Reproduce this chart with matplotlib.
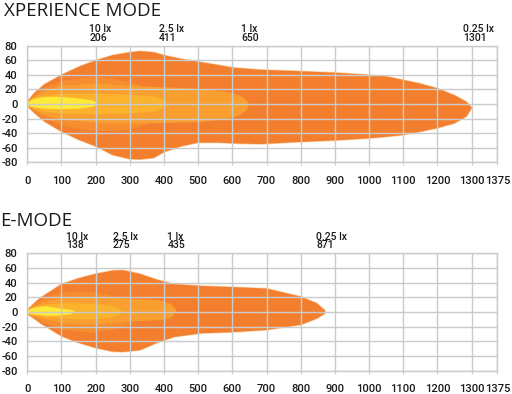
import matplotlib
matplotlib.use("Agg")
import matplotlib.pyplot as plt
import numpy as np
from matplotlib.transforms import blended_transform_factory

# ---------------- data ----------------
xticks = [0, 100, 200, 300, 400, 500, 600, 700, 800, 900, 1000, 1100, 1200, 1300, 1375]
yticks = [-80, -60, -40, -20, 0, 20, 40, 60, 80]

# XPERIENCE MODE  (distance m, upper edge deg, lower edge deg)
xp_labels = ["10 lx", "2.5 lx", "1 lx", "0.25 lx"]
xp_dist = [206, 411, 650, 1301]

xp_025_x = [0, 20, 50, 100, 150, 200, 250, 300, 330, 370, 400, 450, 500, 560, 600, 680, 800, 900, 1000, 1050, 1100, 1150, 1200, 1250, 1285, 1301]
xp_025_top = [3, 15, 27, 40, 51, 60, 67, 71, 72.5, 71, 67, 62, 58, 53.5, 50, 47, 45, 43, 40, 38, 33, 28, 21.5, 12, 3, -5]
xp_025_bot = [-3, -12, -24, -38, -49, -58, -70, -75.5, -76, -74, -66, -58, -53, -53, -54, -55, -52, -50, -47, -45, -42.5, -38, -33, -26.5, -17, -5]

xp_band_x = [0, 20, 50, 100, 150, 200, 250, 300, 330, 350]
xp_band_top = [3, 12, 22, 31, 35, 37, 35, 30, 26, 22]
xp_band_bot = [-3, -10, -19, -29, -34, -37, -37, -34, -31, -28]

xp_1_x = [0, 20, 50, 100, 200, 300, 400, 500, 580, 620, 640, 650]
xp_1_top = [3, 10, 18, 25, 28, 25, 23, 21, 17, 12, 6, -1]
xp_1_bot = [-3, -8, -15, -21, -26, -27, -26, -25, -21, -16, -9, -1]

xp_25_x = [0, 20, 50, 100, 200, 300, 360, 390, 405, 411]
xp_25_top = [3, 9, 12, 14, 14, 13, 11, 8, 4, 0]
xp_25_bot = [-3, -7, -11, -13, -14, -13, -11, -8, -4, 0]

xp_10_x = [0, 15, 40, 80, 120, 160, 190, 206]
xp_10_top = [2, 6, 9, 10, 9, 7, 5, 1]
xp_10_bot = [-2, -4, -6, -7, -7, -6, -4, -1]

# E-MODE
em_labels = ["10 lx", "2.5 lx", "1 lx", "0.25 lx"]
em_dist = [138, 275, 435, 871]

em_025_x = [0, 20, 40, 100, 150, 200, 250, 280, 330, 380, 430, 510, 600, 700, 800, 847, 871]
em_025_top = [3, 12, 20, 38, 46, 52, 56.5, 57, 52, 44, 38, 35.5, 34, 32, 21, 12, 2]
em_025_bot = [-3, -9, -16, -33, -42, -49, -54, -54.5, -52, -42, -34, -29, -27.5, -24.5, -17.5, -9, -2]

em_band_x = [0, 20, 50, 100, 150, 200, 250, 280, 300]
em_band_top = [3, 10, 19, 26, 28, 27, 22, 18, 15]
em_band_bot = [-3, -8, -15, -23, -27, -28, -24, -20, -16]

em_1_x = [0, 20, 50, 100, 150, 200, 300, 390, 420, 435]
em_1_top = [3, 8, 14, 19, 21, 20, 18, 16, 11, 3]
em_1_bot = [-3, -6, -10, -15, -17, -17, -13, -11, -8, 1]

em_25_x = [0, 20, 50, 100, 150, 200, 240, 265, 275]
em_25_top = [3, 7, 10, 12, 12, 11, 9, 6, 2]
em_25_bot = [-3, -5, -7, -9, -10, -10, -8, -5, 0]

em_10_x = [0, 15, 35, 55, 80, 110, 130, 138]
em_10_top = [2, 5, 7, 8, 6, 4, 3, 1]
em_10_bot = [-2, -3, -4, -5, -5, -4, -3, 0]

# ---------------- style ----------------
c_outer = "#F37F2E"
c_band = "#F68E2F"
c_1 = "#F89F30"
c_25 = "#FBB22C"
c_10 = "#FFEA3A"
grid_c = "#CBCBCB"
txt_c = "#1a1a1a"

plt.rcParams['font.family'] = ['Roboto', 'DejaVu Sans']

fig = plt.figure(figsize=(5.12, 3.94), dpi=100)


def poly(ax, xs, top, bot, color, z, edge=None):
    px = list(xs) + list(xs[::-1])
    py = list(top) + list(bot[::-1])
    ax.fill(px, py, color=color, zorder=z, lw=0)
    if edge:
        ax.fill(px, py, facecolor="none", edgecolor=edge, lw=1.0, zorder=z - 0.1)


def setup(ax, labels, dists, layers):
    for (xs, t, b, col, edge) in layers:
        poly(ax, xs, t, b, col, 1, edge)
    ax.set_xlim(0, 1375)
    ax.set_ylim(-80, 80)
    ax.set_xticks(xticks)
    ax.set_yticks(yticks)
    ax.set_xticklabels([str(v) for v in xticks], fontsize=8, fontweight='medium')
    ax.set_yticklabels([str(v) for v in yticks], fontsize=8, fontweight='medium')
    ax.grid(True, color=grid_c, lw=1.0, zorder=3)
    ax.set_axisbelow(False)
    for s in ax.spines.values():
        s.set_color(grid_c)
        s.set_linewidth(1.0)
        s.set_zorder(3)
    ax.tick_params(axis='y', length=0, pad=7, colors=txt_c)
    ax.tick_params(axis='x', length=2.5, pad=7, color=grid_c, labelcolor=txt_c)
    tr = blended_transform_factory(ax.transData, ax.transAxes)
    for lab, d in zip(labels, dists):
        ax.text(d - 25, 1.025, f"{lab}\n{d}", transform=tr, ha='left', va='bottom',
                fontsize=7.5, fontweight='medium', linespacing=0.85, color=txt_c)


ax1 = fig.add_axes([0.0533, 0.588, 0.918, 0.296])
setup(ax1, xp_labels, xp_dist, [
    (xp_025_x, xp_025_top, xp_025_bot, c_outer, "#FBD3A8"),
    (xp_band_x, xp_band_top, xp_band_bot, c_band, None),
    (xp_1_x, xp_1_top, xp_1_bot, c_1, None),
    (xp_25_x, xp_25_top, xp_25_bot, c_25, None),
    (xp_10_x, xp_10_top, xp_10_bot, c_10, None),
])

ax2 = fig.add_axes([0.0533, 0.0591, 0.918, 0.298])
setup(ax2, em_labels, em_dist, [
    (em_025_x, em_025_top, em_025_bot, c_outer, "#FBD3A8"),
    (em_band_x, em_band_top, em_band_bot, c_band, None),
    (em_1_x, em_1_top, em_1_bot, c_1, None),
    (em_25_x, em_25_top, em_25_bot, c_25, None),
    (em_10_x, em_10_top, em_10_bot, c_10, None),
])

fig.text(4 / 512, 1 - 2 / 394, "XPERIENCE MODE", ha='left', va='top',
         fontsize=13.5, family='Open Sans', color=txt_c)
fig.text(0 / 512, 1 - 212 / 394, "E-MODE", ha='left', va='top',
         fontsize=13.5, family='Open Sans', color=txt_c)

fig.savefig("out.png", dpi=100)
